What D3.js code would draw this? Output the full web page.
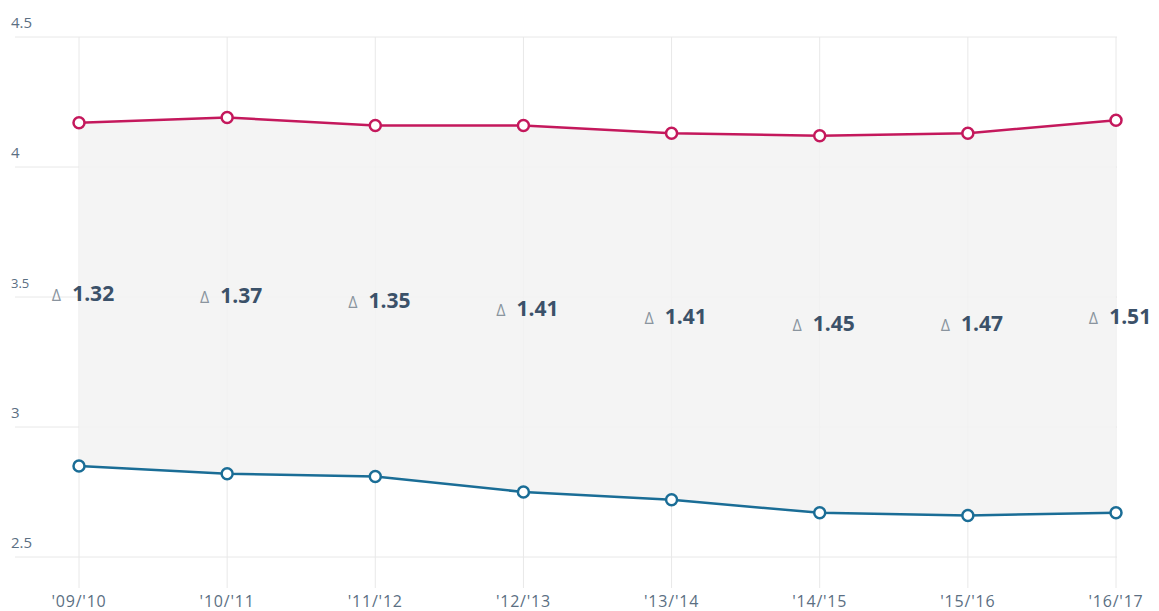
<!DOCTYPE html>
<html>
<head>
<meta charset="utf-8">
<script src="https://cdn.jsdelivr.net/npm/d3@7"></script>
<style>
  body { margin: 0; background: #fff; }
  text { font-family: "Open Sans", "Noto Sans", sans-serif; }
</style>
</head>
<body>
<script>
// seasons and the two series
var seasons = ["'09/'10", "'10/'11", "'11/'12", "'12/'13", "'13/'14", "'14/'15", "'15/'16", "'16/'17"];
var upper = [4.17, 4.19, 4.16, 4.16, 4.13, 4.12, 4.13, 4.18];
var lower = [2.85, 2.82, 2.81, 2.75, 2.72, 2.67, 2.66, 2.67];
var yTicks = [2.5, 3, 3.5, 4, 4.5];

var width = 1159, height = 611;

var svg = d3.select("body").append("svg")
  .attr("width", width)
  .attr("height", height);

var x = d3.scalePoint()
  .domain(seasons)
  .range([79, 1116]);

var y = d3.scaleLinear()
  .domain([2.5, 4.5])
  .range([557, 37]);

// horizontal gridlines
svg.selectAll("line.hgrid")
  .data(yTicks)
  .enter()
  .append("line")
  .attr("class", "hgrid")
  .attr("x1", 15)
  .attr("x2", 1117)
  .attr("y1", function(d) { return y(d); })
  .attr("y2", function(d) { return y(d); })
  .style("stroke", "#e8e8e8")
  .style("stroke-width", 1);

// vertical gridlines
svg.selectAll("line.vgrid")
  .data(seasons)
  .enter()
  .append("line")
  .attr("class", "vgrid")
  .attr("x1", function(d) { return x(d); })
  .attr("x2", function(d) { return x(d); })
  .attr("y1", 37)
  .attr("y2", 588)
  .style("stroke", "#e8e8e8")
  .style("stroke-width", 1);

// shaded band between the lines
var band = seasons.map(function(s, i) { return { s: s, hi: upper[i], lo: lower[i] }; });

svg.append("path")
  .datum(band)
  .attr("d", d3.area()
    .x(function(d) { return x(d.s); })
    .y0(function(d) { return y(d.lo); })
    .y1(function(d) { return y(d.hi); }))
  .style("fill", "#f2f2f2")
  .style("opacity", 0.85);

// y tick labels (sit above gridline)
svg.selectAll("text.ytick")
  .data(yTicks)
  .enter()
  .append("text")
  .attr("class", "ytick")
  .attr("x", 11)
  .attr("y", function(d) { return y(d) - 9; })
  .style("font-size", function(d) { return d === 3.5 ? "13px" : "15px"; })
  .style("fill", "#5b6f83")
  .text(function(d) { return d; });

// x tick labels
svg.selectAll("text.xtick")
  .data(seasons)
  .enter()
  .append("text")
  .attr("class", "xtick")
  .attr("x", function(d) { return x(d); })
  .attr("y", 607)
  .attr("text-anchor", "middle")
  .style("font-size", "16px")
  .style("letter-spacing", "0.8px")
  .style("fill", "#5b6f83")
  .text(function(d) { return d; });

function drawSeries(values, color) {
  var pts = seasons.map(function(s, i) { return [x(s), y(values[i])]; });
  svg.append("path")
    .datum(pts)
    .attr("d", d3.line())
    .style("fill", "none")
    .style("stroke", color)
    .style("stroke-width", 2.5);
  svg.selectAll(null)
    .data(pts)
    .enter()
    .append("circle")
    .attr("cx", function(d) { return d[0]; })
    .attr("cy", function(d) { return d[1]; })
    .attr("r", 5.5)
    .style("fill", "#fff")
    .style("stroke", color)
    .style("stroke-width", 2.5);
}

drawSeries(upper, "#c4185c");
drawSeries(lower, "#1a6d96");

// delta labels at the midpoint of each pair
var labels = svg.selectAll("text.delta")
  .data(band)
  .enter()
  .append("text")
  .attr("class", "delta")
  .attr("x", function(d) { return x(d.s) + 4; })
  .attr("y", function(d) { return y((d.hi + d.lo) / 2) + 7; })
  .attr("text-anchor", "middle");

labels.append("tspan")
  .style("font-size", "16px")
  .style("fill", "#8a949e")
  .text("\u0394");

labels.append("tspan")
  .attr("dx", 11)
  .style("font-size", "21px")
  .style("font-weight", "bold")
  .style("fill", "#3b5169")
  .text(function(d) { return (d.hi - d.lo).toFixed(2); });
</script>
</body>
</html>
